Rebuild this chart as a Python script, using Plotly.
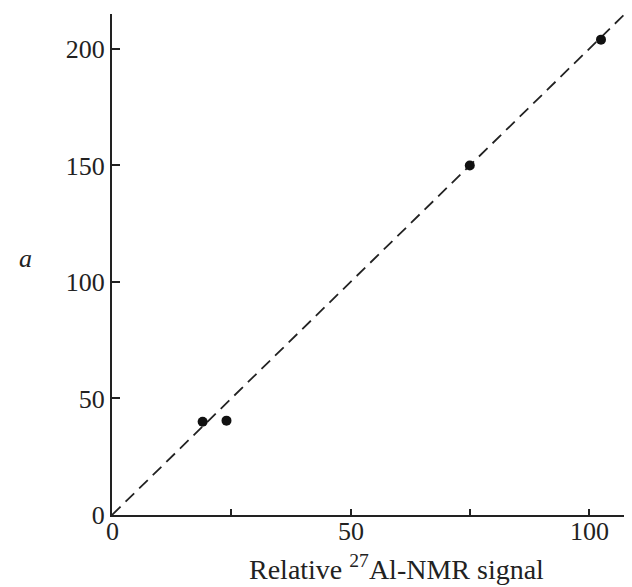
import plotly.graph_objects as go

# data
signal = [19, 24, 75, 102.5]
a_vals = [40, 40.5, 150, 204]
fit_x = [0, 109]
fit_y = [0, 218]
x_ticks = [0, 50, 100]
x_labels = ["0", "50", "100"]
y_ticks = [0, 50, 100, 150, 200]
y_labels = ["0", "50", "100", "150", "200"]

font_family = "Liberation Serif, Times New Roman, serif"

fig = go.Figure()
fig.add_trace(go.Scatter(x=fit_x, y=fit_y, mode="lines",
                         line=dict(color="#222", width=1.8, dash="12px,7px"),
                         hoverinfo="skip", showlegend=False))
fig.add_trace(go.Scatter(x=signal, y=a_vals, mode="markers",
                         marker=dict(color="#111", size=10),
                         showlegend=False))

# page body has an 8px default margin, so the figure is 8px smaller
W, H = 624, 579
L, R, T, B = 104, 0, 6, 72
pw, ph = W - L - R, H - T - B

fig.update_layout(
    width=W, height=H,
    margin=dict(l=L, r=R, t=T, b=B),
    paper_bgcolor="white", plot_bgcolor="white",
    font=dict(family=font_family, size=26, color="#222"),
    xaxis=dict(range=[0, 109], tickvals=x_ticks, showticklabels=False,
               ticks="inside", ticklen=6, tickwidth=1.5, tickcolor="#222",
               minor=dict(dtick=25, tick0=0, ticks="inside", ticklen=6,
                          tickwidth=1.5, tickcolor="#222", showgrid=False),
               showline=True, linecolor="#222", linewidth=2,
               showgrid=False, zeroline=False),
    yaxis=dict(range=[0, 215], tickvals=y_ticks, ticktext=y_labels,
               ticks="inside", ticklen=8, tickwidth=1.5, tickcolor="#222",
               showline=True, linecolor="#222", linewidth=2,
               showgrid=False, zeroline=False,
               tickfont=dict(size=26)),
)
# x tick labels (placed closer to the axis than plotly's default)
for xv, lab in zip(x_ticks, x_labels):
    fig.add_annotation(text=lab, x=xv, xref="x", y=(515 - 531) / ph, yref="paper",
                       xanchor="center", yanchor="middle", showarrow=False,
                       font=dict(size=26))
# x axis title
fig.add_annotation(text="Relative <sup>27</sup>Al-NMR signal",
                   x=(396 - 112) / pw, xref="paper", y=(515 - 567) / ph, yref="paper",
                   xanchor="center", yanchor="middle", showarrow=False,
                   font=dict(size=28))
# y axis title
fig.add_annotation(text="<i>a</i>", xref="paper", yref="paper",
                   x=(25 - 112) / pw, y=(515 - 258) / ph,
                   xanchor="center", yanchor="middle",
                   showarrow=False, font=dict(size=26))

fig.write_html("out.html")
